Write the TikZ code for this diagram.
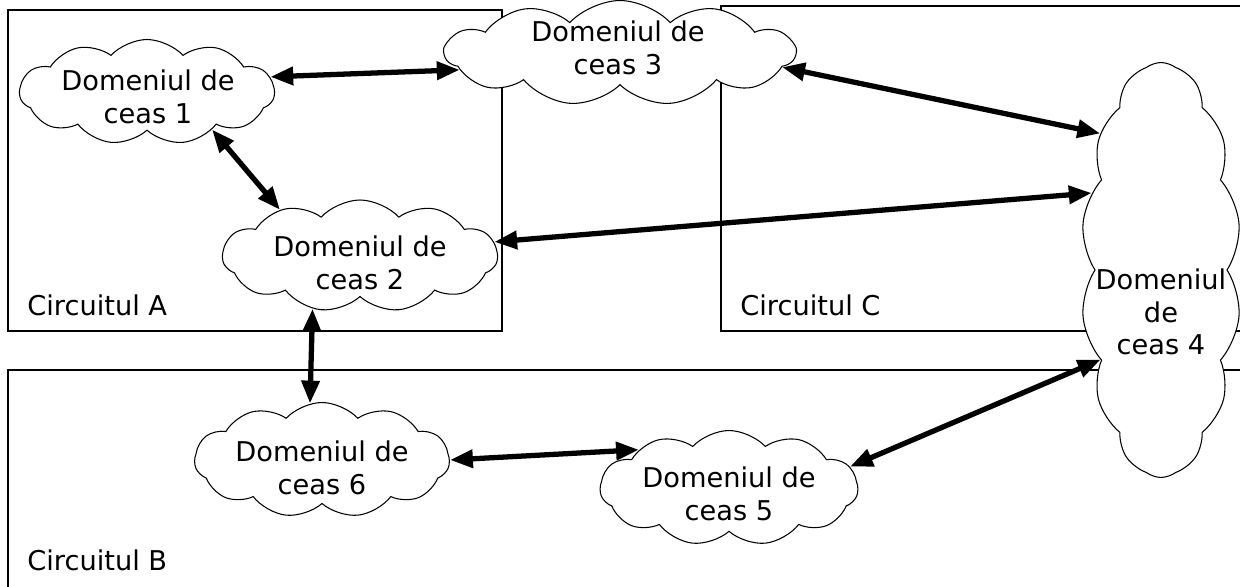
\documentclass[tikz,border=0pt]{standalone}
\usepackage{fontspec}
\setmainfont{DejaVu Sans}
\usetikzlibrary{shapes.symbols,arrows.meta}

\tikzset{
  domeniu/.style={cloud, draw, fill=white, line width=0.6pt, cloud puffs=11,
    cloud puff arc=95, cloud ignores aspect, inner sep=0pt},
  eticheta/.style={align=center, inner sep=0pt, font=\fontsize{15.5}{18.4}\selectfont},
  legatura/.style={{Triangle[length=13pt,width=10pt]}-{Triangle[length=13pt,width=10pt]}, line width=3pt},
  cutie/.style={line width=0.8pt}
}

\begin{document}
\begin{tikzpicture}[x=0.02cm, y=-0.02cm]
    \useasboundingbox (0,0) rectangle (1240,587);
    \clip (0,0) rectangle (1240,587);

    \draw[cutie] (8,10) rectangle (502,331);
    \draw[cutie] (721,6) rectangle (1260,331);
    \draw[cutie] (8,370) rectangle (1260,620);
    \node[eticheta, anchor=west] (ca) at (27,305) {Circuitul A};
    \node[eticheta, anchor=west] (cc) at (740,305) {Circuitul C};
    \node[eticheta, anchor=west] (cb) at (27,560) {Circuitul B};

    \node[domeniu, minimum width=5.1cm, minimum height=2.1cm] (d1) at (147,92) {};
    \node[domeniu, minimum width=7.0cm, minimum height=2.1cm] (d3) at (620,53) {};
    \node[domeniu, minimum width=5.5cm, minimum height=2.24cm] (d2) at (360,256) {};
    \node[domeniu, cloud puffs=14, cloud puff arc=75, minimum width=3.2cm, minimum height=8.3cm] (d4) at (1161,270) {};
    \node[domeniu, minimum width=5.1cm, minimum height=2.3cm] (d6) at (322,460) {};
    \node[domeniu, minimum width=5.16cm, minimum height=2.3cm] (d5) at (729,488) {};

    \node[eticheta] (t1) at (148,97) {Domeniul de\\ceas 1};
    \node[eticheta] (t3) at (618,48) {Domeniul de\\ceas 3};
    \node[eticheta] (t2) at (360,263) {Domeniul de\\ceas 2};
    \node[eticheta] (t4) at (1161,312) {Domeniul\\de\\ceas 4};
    \node[eticheta] (t6) at (322,468) {Domeniul de\\ceas 6};
    \node[eticheta] (t5) at (729,494) {Domeniul de\\ceas 5};

    \draw[legatura] (d1.7) -- (d3.186);
    \draw[legatura] (d1.-30) -- (d2.150);
    \draw[legatura] (d3.-5) -- (d4.114);
    \draw[legatura] (d2.6) -- (d4.132);
    \draw[legatura] (d2.228) -- (d6.102);
    \draw[legatura] (d6.0) -- (d5.157);
    \draw[legatura] (d5.10) -- (d4.236);
\end{tikzpicture}
\end{document}
